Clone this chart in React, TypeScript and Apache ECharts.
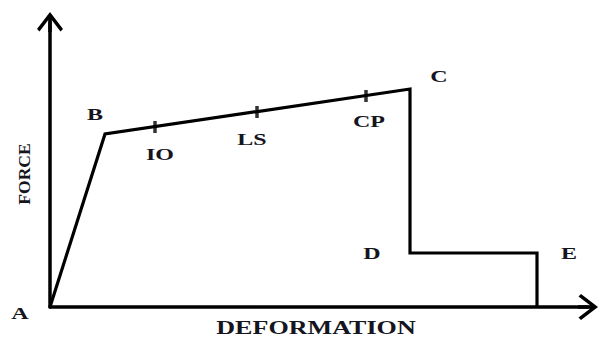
import React, { useEffect, useRef } from "react";
import * as echarts from "echarts";

// Curve points (deformation, force) in arbitrary units
const curveX = [0, 55, 360, 360, 487, 487];
const curveY = [0, 173, 218, 54, 54, 0];
const pointNames = ["A", "B", "C", "D", "E", ""];

// Performance level marks on the B–C segment
const levelNames = ["IO", "LS", "CP"];
const levelX = [105, 207, 316];
const levelY = [180, 195, 211];

const xMax = 538;
const yMax = 285;

const xTitle = "DEFORMATION";
const yTitle = "FORCE";

const chevron =
  "path://M13,0 L26,17 L23.5,19.5 L14.75,8 L14.75,20 L11.25,20 L11.25,8 L2.5,19.5 L0,17 Z";

export default function App() {
  const ref = useRef<HTMLDivElement>(null);

  useEffect(() => {
    document.body.style.margin = "0";
    if (!ref.current) return;
    const chart = echarts.init(ref.current, undefined, { renderer: "svg" });
    const axisLine = {
      show: true,
      symbol: ["none", chevron],
      symbolSize: [26, 20],
      lineStyle: { color: "#000", width: 3.5 },
    };
    chart.setOption({
      animation: false,
      backgroundColor: "#fff",
      grid: { left: 50, right: 12, top: 22, bottom: 30 },
      xAxis: {
        type: "value",
        min: 0,
        max: xMax,
        axisLine,
        axisTick: { show: false },
        axisLabel: { show: false },
        splitLine: { show: false },
      },
      yAxis: {
        type: "value",
        min: 0,
        max: yMax,
        axisLine,
        axisTick: { show: false },
        axisLabel: { show: false },
        splitLine: { show: false },
      },
      series: [
        {
          type: "line",
          data: curveX.map((x, i) => [x, curveY[i]]),
          symbol: "none",
          lineStyle: { color: "#000", width: 3.2, join: "miter", cap: "butt" },
          z: 3,
        },
        {
          type: "scatter",
          data: levelX.map((x, i) => [x, levelY[i]]),
          symbol: "rect",
          symbolSize: [3.5, 12],
          itemStyle: { color: "#000" },
          z: 4,
        },
      ],
    });

    const px = (x: number, y: number) =>
      chart.convertToPixel({ gridIndex: 0 }, [x, y]) as number[];

    const font = "bold 16px 'Liberation Serif', 'Times New Roman', serif";
    const pointOffsets: [number, number][] = [
      [-30, 7],
      [-10, -19],
      [29, -12],
      [-38, 1],
      [32, 1],
    ];
    const levelOffsets: [number, number][] = [
      [5, 28],
      [-5, 28],
      [3, 26],
    ];
    const texts: any[] = [];
    pointNames.forEach((name, i) => {
      if (!name) return;
      const p = px(curveX[i], curveY[i]);
      const o = pointOffsets[i];
      texts.push({
        type: "text",
        x: p[0] + o[0],
        y: p[1] + o[1],
        scaleX: 1.5,
        style: { text: name, font, fill: "#151520", align: "center", verticalAlign: "middle" },
      });
    });
    levelNames.forEach((name, i) => {
      const p = px(levelX[i], levelY[i]);
      const o = levelOffsets[i];
      texts.push({
        type: "text",
        x: p[0] + o[0],
        y: p[1] + o[1],
        scaleX: 1.5,
        style: { text: name, font, fill: "#151520", align: "center", verticalAlign: "middle" },
      });
    });
    texts.push({
      type: "text",
      x: 316,
      y: 328,
      scaleX: 1.45,
      style: {
        text: xTitle,
        font: "bold 18px 'Liberation Serif', 'Times New Roman', serif",
        fill: "#151520",
        align: "center",
        verticalAlign: "middle",
      },
    });
    texts.push({
      type: "text",
      x: 25,
      y: 174,
      rotation: Math.PI / 2,
      scaleX: 1.1,
      style: {
        text: yTitle,
        font: "bold 16px 'Liberation Serif', 'Times New Roman', serif",
        fill: "#151520",
        align: "center",
        verticalAlign: "middle",
      },
    });
    chart.setOption({ graphic: texts });

    return () => chart.dispose();
  }, []);

  return <div ref={ref} style={{ width: 600, height: 337 }} />;
}
